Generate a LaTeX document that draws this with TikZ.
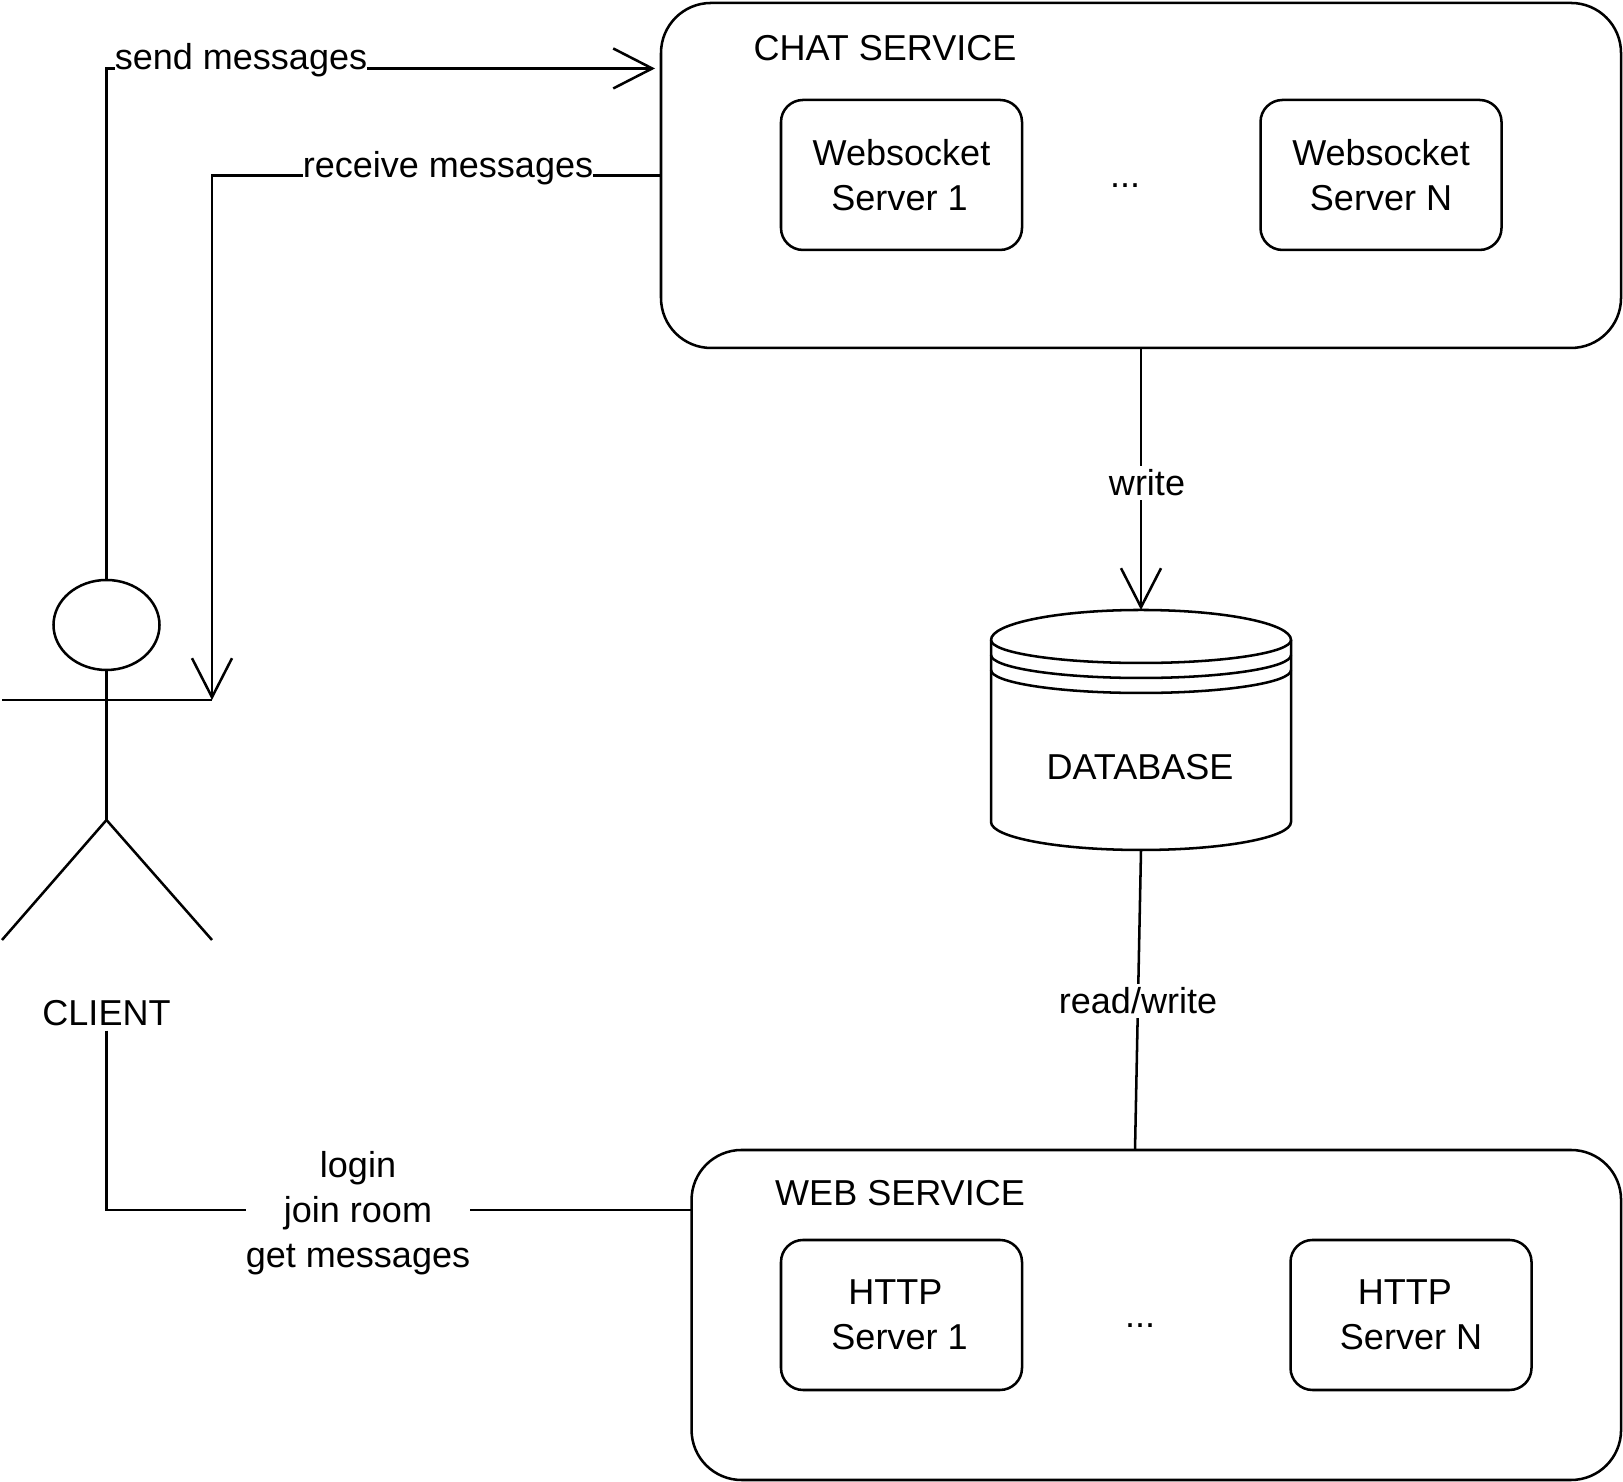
\documentclass[tikz,border=0pt]{standalone}
\usepackage{fontspec}
\setmainfont{Liberation Sans}
\usetikzlibrary{shapes.geometric, arrows.meta, calc}
\tikzset{
	every node/.style={font=\fontsize{10.25}{12.8}\selectfont, outer sep=0pt},
	wire/.style={line width=0.72pt},
	openarrow/.style={wire, -{Straight Barb[length=3.9mm, width=4mm]}},
	servicebox/.style={draw, line width=0.72pt, rounded corners=0.5cm},
	serverbox/.style={draw, line width=0.72pt, rounded corners=0.22cm, minimum width=2.41cm, minimum height=1.5cm, align=center, inner sep=0pt},
	linklabel/.style={fill=white, inner xsep=0pt, inner ysep=0.04cm, align=center},
}
\begin{document}
\begin{tikzpicture}
		\useasboundingbox (0, 0) rectangle (16.23, 14.82);
		\node[servicebox, minimum width=9.6cm, minimum height=3.45cm] (chat) at (11.41, 13.065){};
		\node[servicebox, minimum width=9.295cm, minimum height=3.3cm] (web) at (11.563, 1.67){};
		\node (chattitle) at (8.85, 14.34){CHAT SERVICE};
		\node (webtitle) at (9.0, 2.89){WEB SERVICE};
		\node[serverbox] (ws1) at (9.015, 13.07){Websocket\\Server 1\hspace*{0.04cm}};
		\node[serverbox] (wsn) at (13.81, 13.07){Websocket\\Server N};
		\node[serverbox] (http1) at (9.015, 1.67){HTTP\hspace*{0.124cm}\\Server 1\hspace*{0.04cm}};
		\node[serverbox] (httpn) at (14.11, 1.67){HTTP\hspace*{0.124cm}\\Server N};
		\node (wsdots) at (11.25, 12.967){...};
		\node (httpdots) at (11.4, 1.56){...};
		\node (db) at (11.41, 7.52)[minimum width=3cm, minimum height=2.4cm, inner sep=0pt]{};
		\node (dbname) at (11.4, 7.15){DATABASE};
		\draw[wire] (9.91, 8.42) arc[start angle=180, end angle=0, x radius=1.5, y radius=0.3] arc[start angle=360, end angle=180, x radius=1.5, y radius=0.23];
		\draw[wire] (9.91, 8.27) arc[start angle=180, end angle=360, x radius=1.5, y radius=0.23];
		\draw[wire] (9.91, 8.12) arc[start angle=180, end angle=360, x radius=1.5, y radius=0.23];
		\draw[wire] (9.91, 8.42) -- (9.91, 6.6) arc[start angle=180, end angle=360, x radius=1.5, y radius=0.28] -- (12.91, 8.42);
		\node[draw, line width=0.72pt, ellipse, minimum width=1.06cm, minimum height=0.9cm, inner sep=0pt] (head) at (1.065, 8.57){};
		\coordinate (armleft) at (0.02, 7.82);
		\coordinate (armright) at (2.12, 7.82);
		\coordinate (hip) at (1.065, 6.62);
		\coordinate (footleft) at (0.02, 5.42);
		\coordinate (footright) at (2.12, 5.42);
		\draw[wire] (head.south) -- (hip);
		\draw[wire] (armleft) -- (armright);
		\draw[wire] (footleft) -- (hip) -- (footright);
		\node[inner sep=0.05cm] (client) at (1.065, 4.69){CLIENT};
		\coordinate (sendtip) at (6.55, 14.135);
		\coordinate (webin) at (6.915, 2.72);
		\coordinate (dbout) at (11.35, 3.32);
		\draw[openarrow] (head.north) |- (sendtip);
		\draw[openarrow] (chat.west) -| (armright);
		\draw[openarrow] (chat.south) -- (db.north);
		\draw[wire] (db.south) -- (dbout);
		\draw[wire] (client.south) |- (webin);
		\node[linklabel] (sendlabel) at (2.41, 14.22){send messages};
		\node[linklabel] (receivelabel) at (4.48, 13.14){receive messages};
		\node[linklabel] (writelabel) at (11.47, 9.99){write};
		\node[linklabel] (rwlabel) at (11.38, 4.81){read/write};
		\node[linklabel] (loginlabel) at (3.58, 2.69){login\\join room\\get messages};
	\end{tikzpicture}
\end{document}
